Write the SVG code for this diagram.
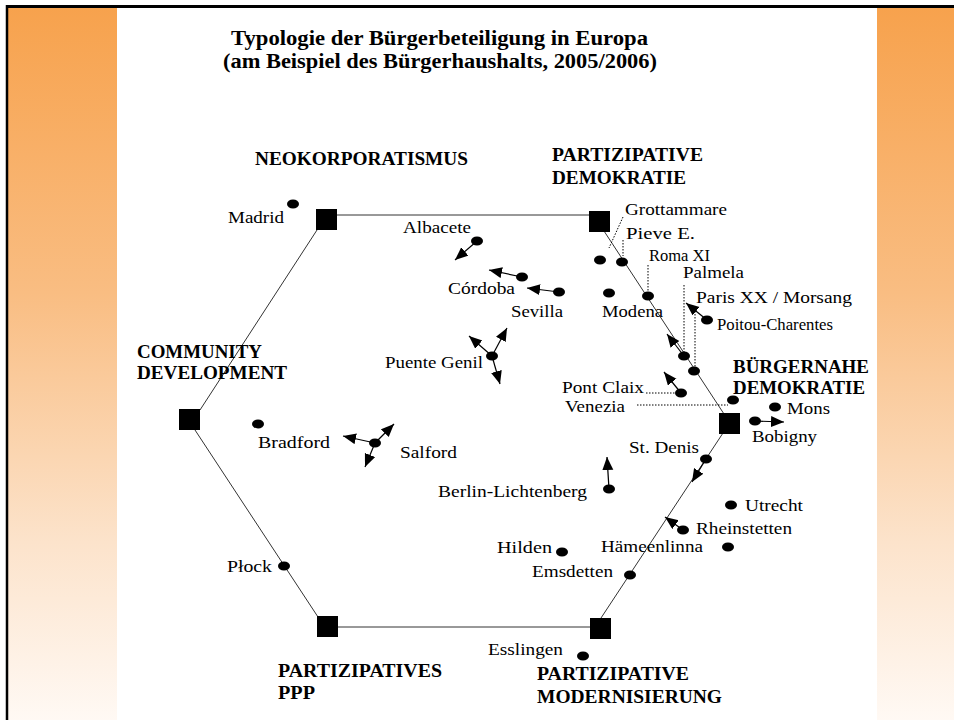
<svg xmlns="http://www.w3.org/2000/svg" width="954" height="720" viewBox="0 0 954 720">
<defs>
<linearGradient id="og" x1="0" y1="0" x2="0" y2="1">
<stop offset="0" stop-color="#F7A24D"/>
<stop offset="0.4" stop-color="#F9BD82"/>
<stop offset="0.75" stop-color="#FCE3CB"/>
<stop offset="1" stop-color="#FFF9F4"/>
</linearGradient>
<marker id="arr" markerUnits="userSpaceOnUse" markerWidth="14" markerHeight="12" refX="13" refY="5.5" orient="auto">
<path d="M0,0 L13,5.5 L0,11 z" fill="#000"/>
</marker>
</defs>
<style>
.city{font-family:"Liberation Serif","Times New Roman",serif;font-size:17px;fill:#000}
.type{font-family:"Liberation Serif","Times New Roman",serif;font-size:18px;font-weight:bold;fill:#000}
.title{font-family:"Liberation Serif","Times New Roman",serif;font-size:20px;font-weight:bold;fill:#000}
.sq{fill:#000}
.dot{fill:#000}
.edge{stroke:#333;stroke-width:1;fill:none}
.arrow{stroke:#000;stroke-width:1.2;fill:none;marker-end:url(#arr)}
.lead{stroke:#000;stroke-width:1;stroke-dasharray:1.5 1.5;fill:none}
</style>
<rect x="0" y="0" width="954" height="720" fill="#fff"/>
<rect x="8" y="8" width="109" height="712" fill="url(#og)"/>
<rect x="877" y="8" width="77" height="712" fill="url(#og)"/>
<line x1="7" y1="6.5" x2="954" y2="6.5" stroke="#000" stroke-width="3"/>
<line x1="7" y1="5" x2="7" y2="720" stroke="#000" stroke-width="2.5"/>

<g id="title">
<text class="title" x="231" y="45" textLength="417" lengthAdjust="spacingAndGlyphs">Typologie der Bürgerbeteiligung in Europa</text>
<text class="title" x="223" y="68" textLength="434" lengthAdjust="spacingAndGlyphs">(am Beispiel des Bürgerhaushalts, 2005/2006)</text>
</g>

<g id="connectors">
<line class="edge" x1="326" y1="215" x2="599" y2="215"/>
<line class="edge" x1="317" y1="230" x2="200" y2="410"/>
<line class="edge" x1="195" y1="430" x2="318" y2="617"/>
<line class="edge" x1="327" y1="627" x2="600" y2="627"/>
<line class="edge" x1="601" y1="618" x2="723" y2="433"/>
<line class="edge" x1="604" y1="231" x2="724" y2="414"/>
<line class="arrow" x1="477" y1="241" x2="455" y2="260"/>
<line class="arrow" x1="522" y1="277" x2="489" y2="270"/>
<line class="arrow" x1="559" y1="292" x2="527" y2="288"/>
<line class="arrow" x1="492" y1="356" x2="469" y2="336"/>
<line class="arrow" x1="492" y1="356" x2="507" y2="328"/>
<line class="arrow" x1="492" y1="356" x2="500" y2="384"/>
<line class="arrow" x1="375" y1="443" x2="343" y2="436"/>
<line class="arrow" x1="375" y1="443" x2="394" y2="424"/>
<line class="arrow" x1="375" y1="443" x2="365" y2="467"/>
<line class="arrow" x1="609" y1="489" x2="607" y2="457"/>
<line class="arrow" x1="706" y1="459" x2="692" y2="482"/>
<line class="arrow" x1="683" y1="530" x2="665" y2="517"/>
<line class="arrow" x1="707" y1="320" x2="686" y2="303"/>
<line class="arrow" x1="684" y1="356" x2="667" y2="334"/>
<line class="arrow" x1="681" y1="393" x2="664" y2="372"/>
<line class="arrow" x1="755" y1="421" x2="784" y2="422"/>
<line class="lead" x1="623" y1="217" x2="609" y2="248"/>
<line class="lead" x1="623" y1="240" x2="623" y2="256"/>
<line class="lead" x1="648" y1="265" x2="648" y2="292"/>
<line class="lead" x1="684" y1="285" x2="684" y2="352"/>
<line class="lead" x1="695" y1="311" x2="695" y2="367"/>
<line class="lead" x1="646" y1="393" x2="675" y2="393"/>
<line class="lead" x1="637" y1="405" x2="728" y2="405"/>
</g>

<g id="node-neokorporatismus">
<rect class="sq" x="316" y="209" width="21" height="21"/>
<text class="type" x="255" y="165" textLength="213" lengthAdjust="spacingAndGlyphs">NEOKORPORATISMUS</text>
</g>
<g id="node-partizipative-demokratie">
<rect class="sq" x="589" y="211" width="21" height="21"/>
<text class="type" x="552" y="161" textLength="151" lengthAdjust="spacingAndGlyphs">PARTIZIPATIVE</text>
<text class="type" x="552" y="184" textLength="134" lengthAdjust="spacingAndGlyphs">DEMOKRATIE</text>
</g>
<g id="node-community-development">
<rect class="sq" x="179" y="409" width="21" height="21"/>
<text class="type" x="137" y="358" textLength="125" lengthAdjust="spacingAndGlyphs">COMMUNITY</text>
<text class="type" x="137" y="379" textLength="150" lengthAdjust="spacingAndGlyphs">DEVELOPMENT</text>
</g>
<g id="node-buergernahe-demokratie">
<rect class="sq" x="719" y="413" width="21" height="21"/>
<text class="type" x="733" y="373" textLength="136" lengthAdjust="spacingAndGlyphs">BÜRGERNAHE</text>
<text class="type" x="733" y="394" textLength="132" lengthAdjust="spacingAndGlyphs">DEMOKRATIE</text>
</g>
<g id="node-partizipatives-ppp">
<rect class="sq" x="317" y="616" width="21" height="21"/>
<text class="type" x="278" y="677" textLength="164" lengthAdjust="spacingAndGlyphs">PARTIZIPATIVES</text>
<text class="type" x="278" y="699" textLength="37" lengthAdjust="spacingAndGlyphs">PPP</text>
</g>
<g id="node-partizipative-modernisierung">
<rect class="sq" x="590" y="618" width="21" height="21"/>
<text class="type" x="537" y="680" textLength="152" lengthAdjust="spacingAndGlyphs">PARTIZIPATIVE</text>
<text class="type" x="537" y="703" textLength="185" lengthAdjust="spacingAndGlyphs">MODERNISIERUNG</text>
</g>

<g id="city-madrid"><ellipse class="dot" cx="293" cy="204" rx="6" ry="4.5"/><text class="city" x="228" y="223" textLength="56" lengthAdjust="spacingAndGlyphs">Madrid</text></g>
<g id="city-albacete"><ellipse class="dot" cx="477" cy="241" rx="6" ry="4.5"/><text class="city" x="403" y="233" textLength="68" lengthAdjust="spacingAndGlyphs">Albacete</text></g>
<g id="city-cordoba"><ellipse class="dot" cx="522" cy="277" rx="6" ry="4.5"/><text class="city" x="448" y="294" textLength="67" lengthAdjust="spacingAndGlyphs">Córdoba</text></g>
<g id="city-sevilla"><ellipse class="dot" cx="559" cy="292" rx="6" ry="4.5"/><text class="city" x="511" y="317" textLength="52" lengthAdjust="spacingAndGlyphs">Sevilla</text></g>
<g id="city-puente-genil"><ellipse class="dot" cx="492" cy="356" rx="6" ry="4.5"/><text class="city" x="385" y="368" textLength="98" lengthAdjust="spacingAndGlyphs">Puente Genil</text></g>
<g id="city-bradford"><ellipse class="dot" cx="258" cy="424" rx="6" ry="4.5"/><text class="city" x="258" y="448" textLength="72" lengthAdjust="spacingAndGlyphs">Bradford</text></g>
<g id="city-salford"><ellipse class="dot" cx="375" cy="443" rx="6" ry="4.5"/><text class="city" x="400" y="458" textLength="57" lengthAdjust="spacingAndGlyphs">Salford</text></g>
<g id="city-berlin"><ellipse class="dot" cx="609" cy="489" rx="6" ry="4.5"/><text class="city" x="438" y="497" textLength="149" lengthAdjust="spacingAndGlyphs">Berlin-Lichtenberg</text></g>
<g id="city-st-denis"><ellipse class="dot" cx="706" cy="459" rx="6" ry="4.5"/><text class="city" x="629" y="453" textLength="70" lengthAdjust="spacingAndGlyphs">St. Denis</text></g>
<g id="city-utrecht"><ellipse class="dot" cx="731" cy="505" rx="6" ry="4.5"/><text class="city" x="745" y="511" textLength="58" lengthAdjust="spacingAndGlyphs">Utrecht</text></g>
<g id="city-rheinstetten"><ellipse class="dot" cx="683" cy="530" rx="6" ry="4.5"/><text class="city" x="696" y="534" textLength="96" lengthAdjust="spacingAndGlyphs">Rheinstetten</text></g>
<g id="city-haemeenlinna"><ellipse class="dot" cx="728" cy="547" rx="6" ry="4.5"/><text class="city" x="601" y="552" textLength="102" lengthAdjust="spacingAndGlyphs">Hämeenlinna</text></g>
<g id="city-hilden"><ellipse class="dot" cx="562" cy="552" rx="6" ry="4.5"/><text class="city" x="497" y="553" textLength="55" lengthAdjust="spacingAndGlyphs">Hilden</text></g>
<g id="city-emsdetten"><ellipse class="dot" cx="630" cy="575" rx="6" ry="4.5"/><text class="city" x="532" y="577" textLength="81" lengthAdjust="spacingAndGlyphs">Emsdetten</text></g>
<g id="city-esslingen"><ellipse class="dot" cx="583" cy="656" rx="6" ry="4.5"/><text class="city" x="488" y="655" textLength="75" lengthAdjust="spacingAndGlyphs">Esslingen</text></g>
<g id="city-plock"><ellipse class="dot" cx="284" cy="566" rx="6" ry="4.5"/><text class="city" x="227" y="572" textLength="45" lengthAdjust="spacingAndGlyphs">Płock</text></g>
<g id="city-grottammare"><ellipse class="dot" cx="600" cy="260" rx="6" ry="4.5"/><text class="city" x="625" y="215" textLength="102" lengthAdjust="spacingAndGlyphs">Grottammare</text></g>
<g id="city-pieve"><ellipse class="dot" cx="622" cy="262" rx="6" ry="4.5"/><text class="city" x="626" y="239" textLength="69" lengthAdjust="spacingAndGlyphs">Pieve E.</text></g>
<g id="city-roma"><ellipse class="dot" cx="648" cy="296" rx="6" ry="4.5"/><text class="city" x="649" y="261" textLength="61" lengthAdjust="spacingAndGlyphs">Roma XI</text></g>
<g id="city-modena"><ellipse class="dot" cx="609" cy="293" rx="6" ry="4.5"/><text class="city" x="602" y="317" textLength="61" lengthAdjust="spacingAndGlyphs">Modena</text></g>
<g id="city-palmela"><ellipse class="dot" cx="684" cy="356" rx="6" ry="4.5"/><text class="city" x="683" y="278" textLength="61" lengthAdjust="spacingAndGlyphs">Palmela</text></g>
<g id="city-paris"><ellipse class="dot" cx="694" cy="371" rx="6" ry="4.5"/><text class="city" x="696" y="303" textLength="156" lengthAdjust="spacingAndGlyphs">Paris XX / Morsang</text></g>
<g id="city-poitou"><ellipse class="dot" cx="707" cy="320" rx="6" ry="4.5"/><text class="city" x="717" y="330" textLength="116" lengthAdjust="spacingAndGlyphs">Poitou-Charentes</text></g>
<g id="city-pont-claix"><ellipse class="dot" cx="681" cy="393" rx="6" ry="4.5"/><text class="city" x="562" y="393" textLength="82" lengthAdjust="spacingAndGlyphs">Pont Claix</text></g>
<g id="city-venezia"><ellipse class="dot" cx="733" cy="400" rx="6" ry="4.5"/><text class="city" x="565" y="412" textLength="60" lengthAdjust="spacingAndGlyphs">Venezia</text></g>
<g id="city-mons"><ellipse class="dot" cx="775" cy="407" rx="6" ry="4.5"/><text class="city" x="787" y="414" textLength="43" lengthAdjust="spacingAndGlyphs">Mons</text></g>
<g id="city-bobigny"><ellipse class="dot" cx="755" cy="421" rx="6" ry="4.5"/><text class="city" x="752" y="442" textLength="65" lengthAdjust="spacingAndGlyphs">Bobigny</text></g>
</svg>
